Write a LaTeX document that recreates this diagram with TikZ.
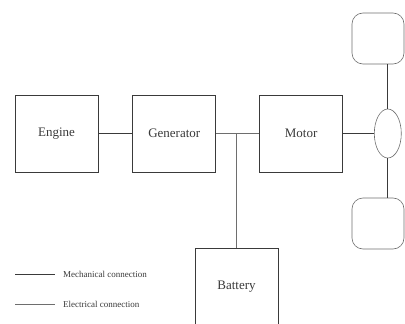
\documentclass[tikz,border=0pt]{standalone}
\usepackage{fontspec}
\setmainfont{Liberation Serif}
\usetikzlibrary{positioning, shapes.geometric}
\definecolor{ink} {HTML}{3A3A3A}
\definecolor{wire}{HTML}{6E6E6E}
\tikzset{
  box/.style    = {draw=ink, line width=0.8pt, minimum width=83pt,
                   minimum height=77pt, text=ink,
                   font=\fontsize{13}{15}\selectfont},
  wheel/.style  = {draw=wire, line width=0.6pt, rounded corners=11pt,
                   minimum width=52pt, minimum height=51pt},
  hub/.style    = {ellipse, draw=wire, line width=0.6pt,
                   minimum width=27pt, minimum height=49pt, inner sep=0pt},
  mech/.style   = {draw=ink, line width=0.8pt},
  elec/.style   = {draw=wire, line width=0.5pt},
  legtxt/.style = {font=\fontsize{9}{10}\selectfont, text=ink, inner sep=0pt},
}
\begin{document}
\begin{tikzpicture}[x=1pt, y={(0pt,-1pt)}]
  \useasboundingbox (0,0) rectangle (405,324);
  \clip (0,0) rectangle (405,324);

  % drive train
  \node[box] (engine) at (56.5,133.5) {Engine};
  \node[box, right=34pt of engine] (gen) {Generator};
  \node[box, right=43pt of gen] (motor) {Motor};
  \node[hub, right=31pt of motor] (hub) {};
  \draw[mech] (engine) -- (gen);
  \draw[elec] (gen) -- (motor);
  \draw[mech] (motor) -- (hub);

  % wheels
  \node[wheel] (wtop) at (378,38.5) {};
  \node[wheel] (wbot) at (378,223.5) {};
  \draw[mech] (hub.north) -- (hub.north |- wtop.south);
  \draw[mech] (hub.south) -- (hub.south |- wbot.north);

  % battery
  \node[box] (bat) at (236.5,287) {Battery};
  \coordinate (junc) at (bat.north |- gen.east);
  \draw[elec] (junc) -- (bat);

  % legend
  \coordinate (mechA) at (15,274);
  \coordinate (mechB) at (55,274);
  \coordinate (elecA) at (15,304);
  \coordinate (elecB) at (55,304);
  \draw[mech] (mechA) -- (mechB);
  \draw[elec] (elecA) -- (elecB);
  \node[legtxt, right=8pt of mechB] (mechtxt) {Mechanical connection};
  \node[legtxt, right=8pt of elecB] (electxt) {Electrical connection};

\end{tikzpicture}
\end{document}
